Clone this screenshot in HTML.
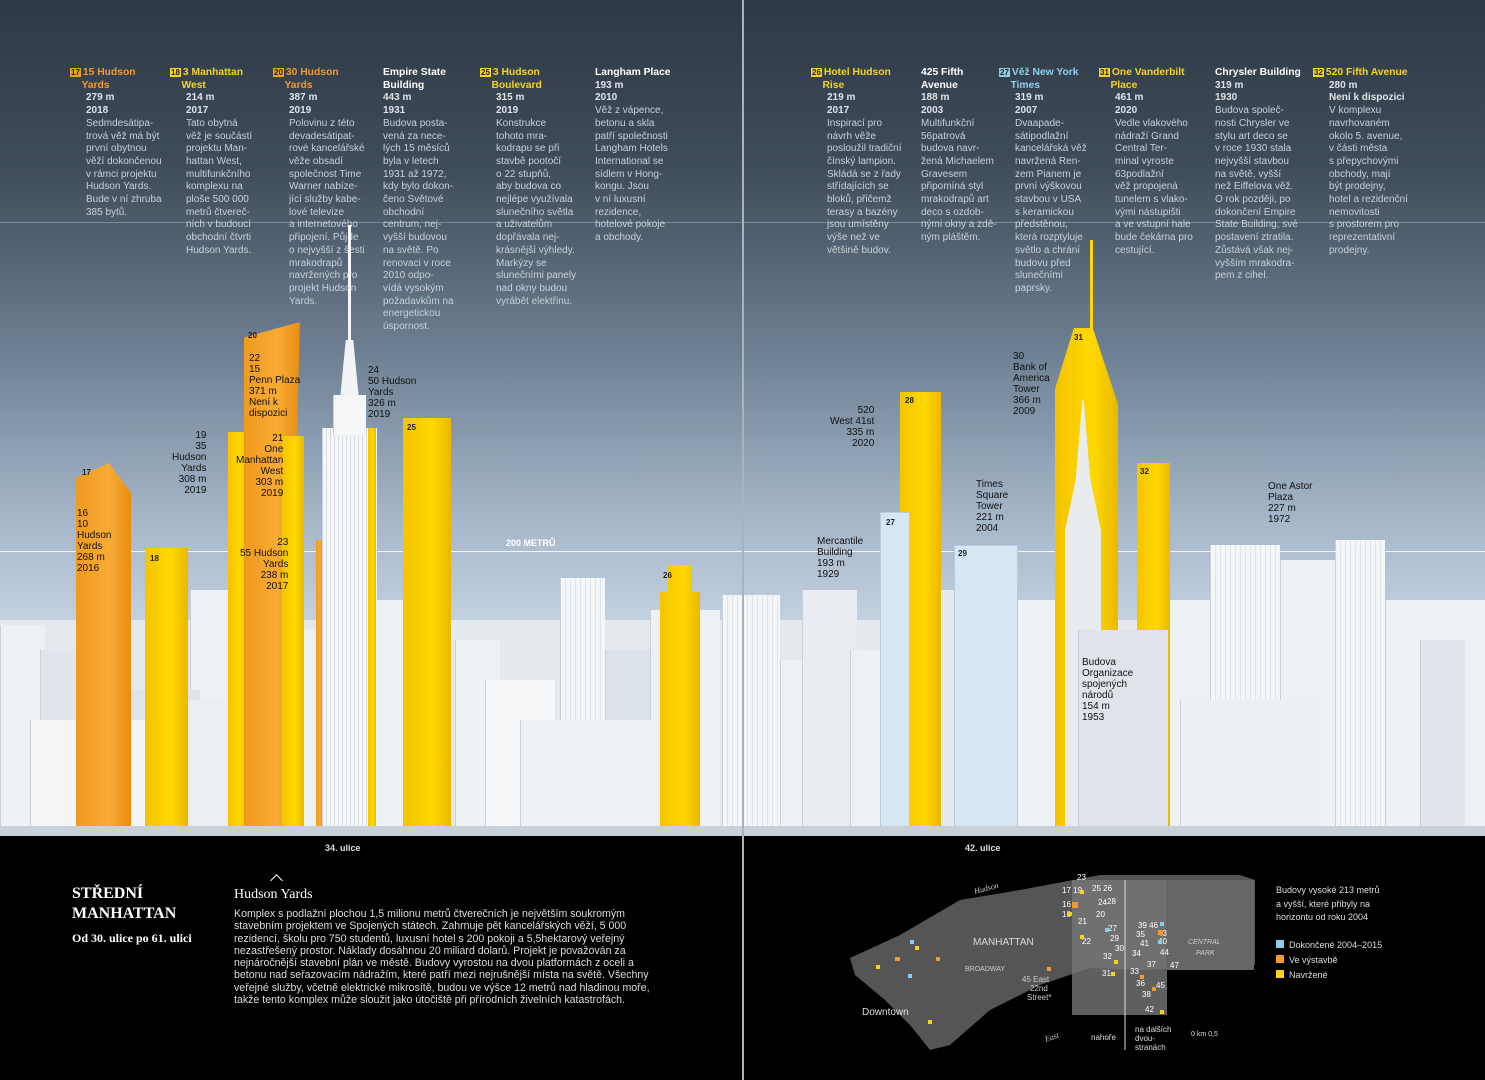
<!DOCTYPE html>
<html><head><meta charset="utf-8"><style>
*{margin:0;padding:0;box-sizing:border-box}
body{width:1485px;height:1080px;overflow:hidden;position:relative;background:#000;font-family:"Liberation Sans",sans-serif}
.sky{position:absolute;left:0;top:0;width:1485px;height:836px;background:linear-gradient(#2e3945 0%,#3f4c5a 20%,#6d7f92 42%,#a5b6c9 62%,#c4d2e1 75%,#d3dde8 100%)}
.a{position:absolute}
.col{position:absolute;top:67px;font-size:10px;line-height:12.7px;color:#c9d0d8;width:100px}
.col b{display:block;color:#fff;font-size:10.3px}
.col b.o{color:#f39a2a}.col b.y{color:#f5d51b}
.col .m{font-weight:bold;color:#dfe3e8}
.num{display:inline-block;background:#e8a21c;color:#222;font-size:8px;padding:0 1px;margin-right:2px;line-height:9px}
.n2{background:#f3d31c}.n3{background:#8ccde8}
.lbl{position:absolute;font-size:10px;line-height:11px;color:#111;text-align:right}
.bd{position:absolute;background:#eef1f4;border-left:1px solid #c9d0d8}
.yl{position:absolute;background:linear-gradient(90deg,#f4c400,#ffd800 60%,#e9b800)}
.or{position:absolute;background:linear-gradient(90deg,#f09a1f,#f7ab35 60%,#e88d10)}
.bl{position:absolute;background:#d6e6f2;border:1px solid #b8cbdc}
.tag{position:absolute;font-size:8px;font-weight:bold;color:#222}
</style></head><body>
<div class="sky"></div>
<div class="a" style="left:0;top:222px;width:1485px;height:1px;background:#7d8c9c"></div>

<div class="col" style="left:70px"><b class="o"><span class="num">17</span>15 Hudson<br>&nbsp;&nbsp;&nbsp;&nbsp;Yards</b><div style="padding-left:16px"><span class="m">279 m<br>2018</span><br>Sedmdesátipa-<br>trová věž má být<br>první obytnou<br>věží dokončenou<br>v rámci projektu<br>Hudson Yards.<br>Bude v ní zhruba<br>385 bytů.</div></div>
<div class="col" style="left:170px"><b class="y"><span class="num n2">18</span>3 Manhattan<br>&nbsp;&nbsp;&nbsp;&nbsp;West</b><div style="padding-left:16px"><span class="m">214 m<br>2017</span><br>Tato obytná<br>věž je součástí<br>projektu Man-<br>hattan West,<br>multifunkčního<br>komplexu na<br>ploše 500 000<br>metrů čtvereč-<br>ních v budoucí<br>obchodní čtvrti<br>Hudson Yards.</div></div>
<div class="col" style="left:273px"><b class="o"><span class="num">20</span>30 Hudson<br>&nbsp;&nbsp;&nbsp;&nbsp;Yards</b><div style="padding-left:16px"><span class="m">387 m<br>2019</span><br>Polovinu z této<br>devadesátipat-<br>rové kancelářské<br>věže obsadí<br>společnost Time<br>Warner nabíze-<br>jící služby kabe-<br>lové televize<br>a internetového<br>připojení. Půjde<br>o nejvyšší z šesti<br>mrakodrapů<br>navržených pro<br>projekt Hudson<br>Yards.</div></div>
<div class="col" style="left:383px"><b>Empire State<br>Building</b><span class="m">443 m<br>1931</span><br>Budova posta-<br>vená za nece-<br>lých 15 měsíců<br>byla v letech<br>1931 až 1972,<br>kdy bylo dokon-<br>čeno Světové<br>obchodní<br>centrum, nej-<br>vyšší budovou<br>na světě. Po<br>renovaci v roce<br>2010 odpo-<br>vídá vysokým<br>požadavkům na<br>energetickou<br>úspornost.</div>
<div class="col" style="left:480px"><b class="y"><span class="num n2">25</span>3 Hudson<br>&nbsp;&nbsp;&nbsp;&nbsp;Boulevard</b><div style="padding-left:16px"><span class="m">315 m<br>2019</span><br>Konstrukce<br>tohoto mra-<br>kodrapu se při<br>stavbě pootočí<br>o 22 stupňů,<br>aby budova co<br>nejlépe využívala<br>slunečního světla<br>a uživatelům<br>dopřávala nej-<br>krásnější výhledy.<br>Markýzy se<br>slunečními panely<br>nad okny budou<br>vyrábět elektřinu.</div></div>
<div class="col" style="left:595px"><b>Langham Place</b><span class="m">193 m<br>2010</span><br>Věž z vápence,<br>betonu a skla<br>patří společnosti<br>Langham Hotels<br>International se<br>sídlem v Hong-<br>kongu. Jsou<br>v ní luxusní<br>rezidence,<br>hotelové pokoje<br>a obchody.</div>

<div class="col" style="left:811px"><b class="y"><span class="num n2">26</span>Hotel Hudson<br>&nbsp;&nbsp;&nbsp;&nbsp;Rise</b><div style="padding-left:16px"><span class="m">219 m<br>2017</span><br>Inspirací pro<br>návrh věže<br>posloužil tradiční<br>čínský lampion.<br>Skládá se z řady<br>střídajících se<br>bloků, přičemž<br>terasy a bazény<br>jsou umístěny<br>výše než ve<br>většině budov.</div></div>
<div class="col" style="left:921px"><b>425 Fifth<br>Avenue</b><span class="m">188 m<br>2003</span><br>Multifunkční<br>56patrová<br>budova navr-<br>žená Michaelem<br>Gravesem<br>připomíná styl<br>mrakodrapů art<br>deco s ozdob-<br>nými okny a zdě-<br>ným pláštěm.</div>
<div class="col" style="left:999px"><b style="color:#8fd0ee"><span class="num n3">27</span>Věž New York<br>&nbsp;&nbsp;&nbsp;&nbsp;Times</b><div style="padding-left:16px"><span class="m">319 m<br>2007</span><br>Dvaapade-<br>sátipodlažní<br>kancelářská věž<br>navržená Ren-<br>zem Pianem je<br>první výškovou<br>stavbou v USA<br>s keramickou<br>předstěnou,<br>která rozptyluje<br>světlo a chrání<br>budovu před<br>slunečními<br>paprsky.</div></div>
<div class="col" style="left:1099px"><b class="y"><span class="num n2">31</span>One Vanderbilt<br>&nbsp;&nbsp;&nbsp;&nbsp;Place</b><div style="padding-left:16px"><span class="m">461 m<br>2020</span><br>Vedle vlakového<br>nádraží Grand<br>Central Ter-<br>minal vyroste<br>63podlažní<br>věž propojená<br>tunelem s vlako-<br>vými nástupišti<br>a ve vstupní hale<br>bude čekárna pro<br>cestující.</div></div>
<div class="col" style="left:1215px"><b>Chrysler Building</b><span class="m">319 m<br>1930</span><br>Budova společ-<br>nosti Chrysler ve<br>stylu art deco se<br>v roce 1930 stala<br>nejvyšší stavbou<br>na světě, vyšší<br>než Eiffelova věž.<br>O rok později, po<br>dokončení Empire<br>State Building, své<br>postavení ztratila.<br>Zůstává však nej-<br>vyšším mrakodra-<br>pem z cihel.</div>
<div class="col" style="left:1313px"><b class="y"><span class="num n2">32</span>520 Fifth Avenue</b><div style="padding-left:16px"><span class="m">280 m<br>Není k dispozici</span><br>V komplexu<br>navrhovaném<br>okolo 5. avenue,<br>v části města<br>s přepychovými<br>obchody, mají<br>být prodejny,<br>hotel a rezidenční<br>nemovitosti<br>s prostorem pro<br>reprezentativní<br>prodejny.</div></div>

<!-- background city -->
<div class="a" style="left:0;top:620px;width:1485px;height:216px;background:#e4e9ee"></div>
<div class="bd" style="left:0;top:625px;width:45px;height:211px"></div>
<div class="bd" style="left:40px;top:650px;width:40px;height:186px;background:#dfe5eb"></div>
<div class="bd" style="left:190px;top:590px;width:40px;height:246px"></div>
<div class="bd" style="left:130px;top:690px;width:70px;height:146px;background:#dfe4ea"></div>
<div class="bd" style="left:455px;top:640px;width:45px;height:196px"></div>
<div class="bd" style="left:485px;top:680px;width:70px;height:156px;background:#f5f7f9"></div>
<div class="bd" style="left:560px;top:578px;width:45px;height:258px;background:repeating-linear-gradient(90deg,#f4f6f8 0 4px,#dfe4e9 4px 5px)"></div>
<div class="bd" style="left:605px;top:650px;width:50px;height:186px;background:#dde3ea"></div>
<div class="bd" style="left:650px;top:610px;width:70px;height:226px"></div>
<div class="bd" style="left:722px;top:595px;width:58px;height:241px;background:repeating-linear-gradient(90deg,#f4f6f8 0 4px,#dfe4e9 4px 5px)"></div>
<div class="bd" style="left:780px;top:660px;width:30px;height:176px"></div>
<div class="bd" style="left:802px;top:590px;width:55px;height:246px;background:#e9edf1"></div>
<div class="bd" style="left:850px;top:650px;width:60px;height:186px"></div>
<div class="bd" style="left:1000px;top:600px;width:60px;height:236px"></div>
<div class="bd" style="left:1160px;top:600px;width:50px;height:236px"></div>
<div class="bd" style="left:1210px;top:545px;width:70px;height:291px;background:repeating-linear-gradient(90deg,#f4f6f8 0 4px,#dfe4e9 4px 5px)"></div>
<div class="bd" style="left:1280px;top:560px;width:60px;height:276px"></div>
<div class="bd" style="left:1335px;top:540px;width:50px;height:296px;background:repeating-linear-gradient(90deg,#f4f6f8 0 4px,#dfe4e9 4px 5px)"></div>
<div class="bd" style="left:1385px;top:600px;width:100px;height:236px"></div>
<div class="bd" style="left:1420px;top:640px;width:45px;height:196px;background:#dfe5eb"></div>
<div class="bd" style="left:260px;top:630px;width:60px;height:206px"></div>
<div class="bd" style="left:375px;top:600px;width:30px;height:236px"></div>
<div class="bd" style="left:920px;top:590px;width:80px;height:246px;background:#e6eaee"></div>
<div class="bd" style="left:30px;top:720px;width:120px;height:116px;background:#f3f5f7"></div>
<div class="bd" style="left:180px;top:700px;width:120px;height:136px;background:#eceff2"></div>
<div class="bd" style="left:520px;top:720px;width:140px;height:116px;background:#eef1f4"></div>
<div class="bd" style="left:1180px;top:700px;width:140px;height:136px;background:#eceff3"></div>

<div class="a" style="left:0;top:551px;width:1485px;height:1px;background:#f2f5f8"></div>
<div class="a" style="left:506px;top:538px;font-size:9px;color:#fff;font-weight:bold">200 METRŮ</div>

<div class="or" style="left:76px;top:463px;width:55px;height:373px;clip-path:polygon(0 4%,60% 0,100% 8%,100% 100%,0 100%)"></div>
<div class="tag" style="left:82px;top:468px">17</div>
<div class="lbl" style="left:77px;top:508px;text-align:left">16<br>10<br>Hudson<br>Yards<br>268 m<br>2016</div>
<div class="yl" style="left:145px;top:548px;width:43px;height:288px"></div>
<div class="tag" style="left:150px;top:554px">18</div>
<div class="yl" style="left:228px;top:432px;width:20px;height:404px"></div>
<div class="or" style="left:244px;top:322px;width:56px;height:514px;clip-path:polygon(0 3%,100% 0,95% 20%,100% 100%,0 100%)"></div>
<div class="yl" style="left:282px;top:436px;width:22px;height:400px"></div>
<div class="or" style="left:316px;top:540px;width:7px;height:296px"></div>
<div class="tag" style="left:248px;top:331px">20</div>
<div class="lbl" style="left:249px;top:353px;text-align:left">22<br>15<br>Penn Plaza<br>371 m<br>Není k<br>dispozici</div>
<div class="lbl" style="left:172px;top:430px">19<br>35<br>Hudson<br>Yards<br>308 m<br>2019</div>
<div class="lbl" style="left:236px;top:433px">21<br>One<br>Manhattan<br>West<br>303 m<br>2019</div>
<div class="lbl" style="left:240px;top:537px">23<br>55 Hudson<br>Yards<br>238 m<br>2017</div>
<div class="a" style="left:348px;top:225px;width:3px;height:120px;background:#f5f7f9"></div>
<div class="a" style="left:340px;top:340px;width:19px;height:60px;background:#f1f3f5;clip-path:polygon(30% 0,70% 0,100% 100%,0 100%)"></div>
<div class="bd" style="left:322px;top:428px;width:55px;height:408px;background:repeating-linear-gradient(90deg,#f4f6f8 0 3px,#d9dfe5 3px 4px)"></div>
<div class="bd" style="left:333px;top:395px;width:33px;height:40px;background:#f4f6f8"></div>
<div class="yl" style="left:368px;top:428px;width:8px;height:408px"></div>
<div class="lbl" style="left:368px;top:365px;text-align:left">24<br>50 Hudson<br>Yards<br>326 m<br>2019</div>
<div class="yl" style="left:403px;top:418px;width:48px;height:418px"></div>
<div class="tag" style="left:407px;top:423px">25</div>
<div class="yl" style="left:660px;top:565px;width:40px;height:271px;clip-path:polygon(20% 0,80% 0,80% 10%,100% 10%,100% 100%,0 100%,0 10%,20% 10%)"></div>
<div class="tag" style="left:663px;top:571px">26</div>

<div class="yl" style="left:900px;top:392px;width:41px;height:444px"></div>
<div class="tag" style="left:905px;top:396px">28</div>
<div class="lbl" style="left:830px;top:405px">520<br>West 41st<br>335 m<br>2020</div>
<div class="bl" style="left:880px;top:512px;width:30px;height:324px"></div>
<div class="tag" style="left:886px;top:518px">27</div>
<div class="bl" style="left:954px;top:545px;width:64px;height:291px"></div>
<div class="tag" style="left:958px;top:549px">29</div>
<div class="lbl" style="left:976px;top:479px;text-align:left">Times<br>Square<br>Tower<br>221 m<br>2004</div>
<div class="lbl" style="left:817px;top:536px;text-align:left">Mercantile<br>Building<br>193 m<br>1929</div>
<div class="a" style="left:1090px;top:240px;width:3px;height:95px;background:#ffd800"></div>
<div class="yl" style="left:1055px;top:328px;width:63px;height:508px;clip-path:polygon(30% 0,60% 0,100% 15%,100% 100%,0 100%,0 12%)"></div>
<div class="tag" style="left:1074px;top:333px">31</div>
<div class="lbl" style="left:1013px;top:351px;text-align:left">30<br>Bank of<br>America<br>Tower<br>366 m<br>2009</div>
<div class="a" style="left:1065px;top:400px;width:36px;height:436px;background:#e9ecef;clip-path:polygon(48% 0,52% 0,70% 18%,100% 30%,100% 100%,0 100%,0 30%,30% 18%)"></div>
<div class="yl" style="left:1137px;top:463px;width:33px;height:373px"></div>
<div class="tag" style="left:1140px;top:467px">32</div>
<div class="lbl" style="left:1268px;top:481px;text-align:left">One Astor<br>Plaza<br>227 m<br>1972</div>
<div class="bd" style="left:1078px;top:630px;width:90px;height:206px;background:#dfe4ea"></div>
<div class="lbl" style="left:1082px;top:657px;text-align:left">Budova<br>Organizace<br>spojených<br>národů<br>154 m<br>1953</div>

<div class="a" style="left:0;top:826px;width:1485px;height:10px;background:#c8d0d8"></div>
<div class="a" style="left:742px;top:0;width:2px;height:1080px;background:#a9b3bd"></div>

<div class="a" style="left:325px;top:843px;font-size:9px;color:#ddd;font-weight:bold">34. ulice</div>
<div class="a" style="left:965px;top:843px;font-size:9px;color:#ddd;font-weight:bold">42. ulice</div>
<div class="a" style="left:72px;top:884px;font-family:'Liberation Serif',serif;font-weight:bold;font-size:16px;line-height:20px;color:#fff">STŘEDNÍ<br>MANHATTAN</div>
<div class="a" style="left:72px;top:931px;font-family:'Liberation Serif',serif;font-weight:bold;font-size:12px;color:#fff">Od 30. ulice po 61. ulici</div>
<div class="a" style="left:272px;top:876px;width:9px;height:9px;border-left:1px solid #fff;border-top:1px solid #fff;transform:rotate(45deg)"></div>
<div class="a" style="left:234px;top:887px;font-family:'Liberation Serif',serif;font-size:14px;color:#fff">Hudson Yards</div>
<div class="a" style="left:234px;top:908px;width:420px;font-size:10.6px;line-height:12.3px;color:#ddd">Komplex s podlažní plochou 1,5 milionu metrů čtverečních je největším soukromým stavebním projektem ve Spojených státech. Zahrnuje pět kancelářských věží, 5 000 rezidencí, školu pro 750 studentů, luxusní hotel s 200 pokoji a 5,5hektarový veřejný nezastřešený prostor. Náklady dosáhnou 20 miliard dolarů. Projekt je považován za nejnáročnější stavební plán ve městě. Budovy vyrostou na dvou platformách z oceli a betonu nad seřazovacím nádražím, které patří mezi nejrušnější místa na světě. Všechny veřejné služby, včetně elektrické mikrosítě, budou ve výšce 12 metrů nad hladinou moře, takže tento komplex může sloužit jako útočiště při přírodních živelních katastrofách.</div>

<svg class="a" style="left:840px;top:860px" width="440" height="210">
<path d="M10 98 L60 75 L120 40 L180 30 L260 15 L400 15 L415 20 L415 105 L300 110 L250 108 L200 125 L150 150 L110 185 L90 190 L70 165 L45 140 L15 115 Z" fill="#555"/>
<rect x="232" y="20" width="95" height="135" fill="#777" opacity="0.8"/>
<rect x="326" y="20" width="88" height="90" fill="#666"/>
<line x1="285" y1="20" x2="285" y2="190" stroke="#ddd"/>
<text x="133" y="85" fill="#ddd" font-size="10" font-family="Liberation Sans">MANHATTAN</text>
<text x="125" y="111" fill="#ccc" font-size="7" font-family="Liberation Sans">BROADWAY</text>
<text x="135" y="34" fill="#ccc" font-size="8" font-family="Liberation Serif" font-style="italic" transform="rotate(-15 135 34)">Hudson</text>
<text x="206" y="182" fill="#ccc" font-size="8" font-family="Liberation Serif" font-style="italic" transform="rotate(-20 206 182)">East</text>
<text x="348" y="84" fill="#ccc" font-size="7" font-style="italic" font-family="Liberation Sans">CENTRAL</text>
<text x="356" y="95" fill="#ccc" font-size="7" font-style="italic" font-family="Liberation Sans">PARK</text>
<text x="22" y="155" fill="#ddd" font-size="10" font-family="Liberation Sans">Downtown</text>
<text x="182" y="122" fill="#ccc" font-size="8" font-family="Liberation Sans">45 East</text>
<text x="190" y="131" fill="#ccc" font-size="8" font-family="Liberation Sans">22nd</text>
<text x="187" y="140" fill="#ccc" font-size="8" font-family="Liberation Sans">Street*</text>
<text x="251" y="180" fill="#ddd" font-size="8" font-family="Liberation Sans">nahoře</text>
<text x="295" y="172" fill="#ddd" font-size="8" font-family="Liberation Sans">na dalších</text>
<text x="295" y="181" fill="#ddd" font-size="8" font-family="Liberation Sans">dvou-</text>
<text x="295" y="190" fill="#ddd" font-size="8" font-family="Liberation Sans">stranách</text>
<text x="351" y="176" fill="#ddd" font-size="7" font-family="Liberation Sans">0 km 0,5</text>
<g font-size="8" fill="#fff" font-family="Liberation Sans">
<text x="237" y="20">23</text><text x="222" y="33">17 19</text><text x="252" y="31">25 26</text><text x="222" y="47">16</text><text x="258" y="45">24</text><text x="267" y="44">28</text><text x="222" y="57">18</text><text x="256" y="57">20</text><text x="238" y="64">21</text><text x="268" y="71">27</text><text x="242" y="84">22</text><text x="270" y="81">29</text><text x="275" y="91">30</text><text x="263" y="99">32</text><text x="262" y="116">31</text><text x="298" y="68">39 46</text><text x="296" y="77">35</text><text x="318" y="76">43</text><text x="300" y="86">41</text><text x="318" y="84">40</text><text x="292" y="96">34</text><text x="320" y="95">44</text><text x="307" y="107">37</text><text x="330" y="108">47</text><text x="290" y="114">33</text><text x="296" y="126">36</text><text x="316" y="128">45</text><text x="302" y="137">38</text><text x="305" y="152">42</text>
</g>
<g fill="#f5d51b"><rect x="240" y="30" width="4" height="4"/><rect x="228" y="52" width="4" height="4"/><rect x="240" y="75" width="4" height="4"/><rect x="274" y="100" width="4" height="4"/><rect x="271" y="112" width="4" height="4"/><rect x="320" y="150" width="4" height="4"/><rect x="36" y="105" width="4" height="4"/><rect x="88" y="160" width="4" height="4"/><rect x="75" y="86" width="4" height="4"/></g>
<g fill="#f39a2a"><rect x="232" y="42" width="6" height="6"/><rect x="318" y="70" width="5" height="5"/><rect x="300" y="115" width="4" height="4"/><rect x="312" y="127" width="4" height="4"/><rect x="55" y="97" width="5" height="4"/><rect x="96" y="97" width="4" height="4"/><rect x="207" y="107" width="4" height="4"/></g>
<g fill="#8ccde8"><rect x="265" y="68" width="4" height="4"/><rect x="318" y="80" width="4" height="4"/><rect x="70" y="80" width="4" height="4"/><rect x="68" y="114" width="4" height="4"/><rect x="320" y="62" width="4" height="4"/></g>
</svg>
<div class="a" style="left:1276px;top:884px;font-size:9px;line-height:13.5px;color:#ddd">Budovy vysoké 213 metrů<br>a vyšší, které přibyly na<br>horizontu od roku 2004</div>
<div class="a" style="left:1276px;top:938px;font-size:9px;line-height:15px;color:#ddd"><span style="display:inline-block;width:8px;height:8px;background:#8ccde8;margin-right:5px"></span>Dokončené 2004–2015<br><span style="display:inline-block;width:8px;height:8px;background:#f39a2a;margin-right:5px"></span>Ve výstavbě<br><span style="display:inline-block;width:8px;height:8px;background:#f5d51b;margin-right:5px"></span>Navržené</div>
</body></html>
